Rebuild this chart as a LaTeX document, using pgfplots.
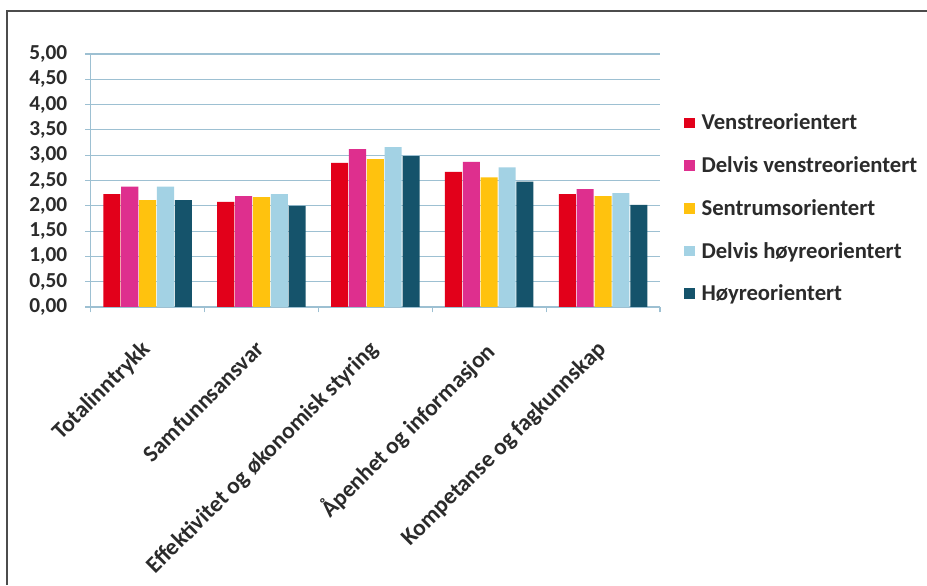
\documentclass[border=0pt]{standalone}
\usepackage{pgfplots}
\pgfplotsset{compat=1.18}
\usepackage{fontspec}
\setmainfont{Carlito}
\definecolor{cRed}{HTML}{E2001A}
\definecolor{cPink}{HTML}{DE2F8E}
\definecolor{cYel}{HTML}{FFC20E}
\definecolor{cLb}{HTML}{A3D2E4}
\definecolor{cDk}{HTML}{15536B}
\definecolor{gridc}{HTML}{9DC0D2}
\definecolor{txt}{HTML}{2B2B2B}
\begin{document}
\begin{tikzpicture}
\useasboundingbox (0,0) rectangle (695.25pt,438.75pt);
\fill[white] (0,0) rectangle (695.25pt,438.75pt);
\draw[line width=1.6pt, color=black!70] (5.25pt,0) -- (5.25pt,430.5pt) -- (695.25pt,430.5pt);
\begin{axis}[
  at={(68pt,208.5pt)}, anchor=origin,
  scale only axis, width=427pt, height=189.75pt,
  ybar=0.6pt, bar width=12.8pt,
  xmin=0.5, xmax=5.5, ymin=0, ymax=5,
  ytick={0,0.5,...,5},
  xtick={1,2,3,4,5},
  xticklabels={Totalinntrykk,Samfunnsansvar,Effektivitet og økonomisk styring,Åpenhet og informasjon,Kompetanse og fagkunnskap},
  minor xtick={0.5,1.5,...,5.5},
  major x tick style={draw=none},
  tick align=outside,
  tick style={color=gridc, line width=0.8pt},
  major tick length=4pt, minor tick length=4pt,
  ymajorgrids, grid style={color=gridc, line width=0.8pt},
  axis x line*=bottom, axis y line*=left,
  axis line style={color=gridc, line width=0.8pt, -},
  y tick label style={/pgf/number format/fixed, /pgf/number format/fixed zerofill, /pgf/number format/precision=2, /pgf/number format/use comma},
  yticklabel style={font=\fontsize{16}{16}\selectfont\bfseries, color=txt, xshift=-10pt},
  /pgf/number format/assume math mode=true,
  xticklabel style={font=\fontsize{17.5}{17.5}\selectfont\bfseries, color=txt, rotate=45, anchor=north east, inner sep=1pt, xshift=-17pt, yshift=-9pt},
  legend style={at={(1.035,0.785)}, anchor=north west, draw=none, fill=none,
    font=\fontsize{17}{17}\selectfont\bfseries, text=txt, row sep=14.6pt,
    /tikz/every even column/.append style={column sep=0pt}},
  legend cell align=left,
  legend image code/.code={\fill[#1,draw=none] (0pt,-4pt) rectangle (8pt,4pt); \path (11pt,0pt);},
  clip=false,
]
\addplot[fill=cRed, draw=none] coordinates {(1,2.23) (2,2.08) (3,2.85) (4,2.67) (5,2.23)};
\addplot[fill=cPink, draw=none] coordinates {(1,2.38) (2,2.19) (3,3.12) (4,2.87) (5,2.33)};
\addplot[fill=cYel, draw=none] coordinates {(1,2.11) (2,2.17) (3,2.92) (4,2.56) (5,2.19)};
\addplot[fill=cLb, draw=none] coordinates {(1,2.38) (2,2.23) (3,3.16) (4,2.76) (5,2.25)};
\addplot[fill=cDk, draw=none] coordinates {(1,2.11) (2,2.00) (3,2.98) (4,2.48) (5,2.02)};
\legend{Venstreorientert,Delvis venstreorientert,Sentrumsorientert,Delvis høyreorientert,Høyreorientert}
\end{axis}
\end{tikzpicture}
\end{document}
